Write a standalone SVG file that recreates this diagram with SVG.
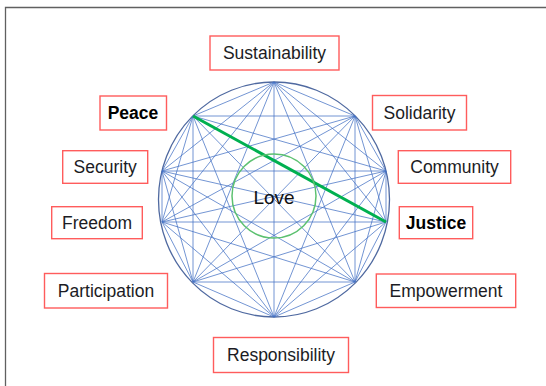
<svg xmlns="http://www.w3.org/2000/svg" width="546" height="386" viewBox="0 0 546 386">
<style>
.box{fill:#ffffff;stroke:#ff5c5c;stroke-width:1.4}
.lbl{font-family:"Liberation Sans",Arial,sans-serif;font-size:17.5px;fill:#1c1c24;text-anchor:middle}
.b{font-weight:bold;fill:#000}
.edge{fill:none;stroke:#4472c4;stroke-width:1;stroke-opacity:0.75}
</style>
<rect x="0" y="0" width="546" height="386" fill="#ffffff"/>
<path d="M5.5 386V7.5H546" fill="none" stroke="#606060" stroke-width="1.3"/>
<g id="wheel">
<ellipse cx="274" cy="199.5" rx="115.5" ry="117.5" fill="none" stroke="#4f69a0" stroke-width="1.3"/>
</g>
<g id="connectors">
<path class="edge" d="M274 82L355 116M274 82L386 171M274 82L386 222M274 82L355 282M274 82L274 317M274 82L193 282M274 82L162 222M274 82L162 171M274 82L193 116
M355 116L386 171M355 116L386 222M355 116L355 282M355 116L274 317M355 116L193 282M355 116L162 222M355 116L162 171M355 116L193 116
M386 171L386 222M386 171L355 282M386 171L274 317M386 171L193 282M386 171L162 222M386 171L162 171M386 171L193 116
M386 222L355 282M386 222L274 317M386 222L193 282M386 222L162 222M386 222L162 171
M355 282L274 317M355 282L193 282M355 282L162 222M355 282L162 171M355 282L193 116
M274 317L193 282M274 317L162 222M274 317L162 171M274 317L193 116
M193 282L162 222M193 282L162 171M193 282L193 116
M162 222L162 171M162 222L193 116M162 171L193 116"/>
<line x1="193" y1="116" x2="386" y2="222" stroke="#00b050" stroke-width="3"/>
</g>
<g id="love">
<circle cx="274" cy="196" r="42" fill="none" stroke="#5cc170" stroke-width="1.5"/>
<text class="lbl" x="274" y="203.5" style="font-size:19px;fill:#111">Love</text>
</g>
<g id="sustainability"><rect class="box" x="210" y="36" width="129" height="34"/><text class="lbl" x="274.5" y="59">Sustainability</text></g>
<g id="peace"><rect class="box" x="100" y="96" width="66.5" height="34"/><text class="lbl b" x="133" y="119">Peace</text></g>
<g id="solidarity"><rect class="box" x="372.5" y="95.5" width="94" height="34.5"/><text class="lbl" x="419.5" y="119">Solidarity</text></g>
<g id="security"><rect class="box" x="62.7" y="150.7" width="85" height="32.6"/><text class="lbl" x="105.2" y="173.3">Security</text></g>
<g id="community"><rect class="box" x="398.3" y="150.7" width="112.4" height="32.6"/><text class="lbl" x="454.5" y="173.3">Community</text></g>
<g id="freedom"><rect class="box" x="51.7" y="206.7" width="90.6" height="32"/><text class="lbl" x="97" y="229">Freedom</text></g>
<g id="justice"><rect class="box" x="399.3" y="206.7" width="73.4" height="32"/><text class="lbl b" x="436" y="229">Justice</text></g>
<g id="participation"><rect class="box" x="44.5" y="273.5" width="123" height="34.5"/><text class="lbl" x="106" y="297">Participation</text></g>
<g id="empowerment"><rect class="box" x="376.3" y="274" width="139.4" height="33.5"/><text class="lbl" x="446" y="297">Empowerment</text></g>
<g id="responsibility"><rect class="box" x="213.5" y="337.5" width="135" height="35"/><text class="lbl" x="281" y="361.3">Responsibility</text></g>
</svg>
